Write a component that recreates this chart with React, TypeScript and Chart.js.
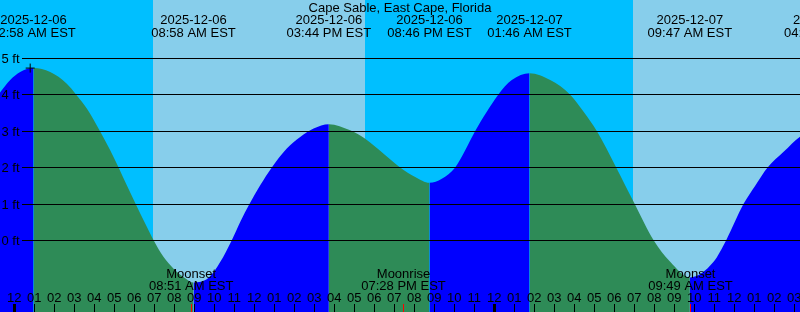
import React, { useEffect, useRef } from "react";
import { Chart, registerables } from "chart.js";

Chart.register(...registerables);

// ---- data (times are hours since 2025-12-06 00:00 EST, heights in ft) ----
const TITLE = "Cape Sable, East Cape, Florida";

const curveTimes = [
  -0.75, -0.2, 0.3, 0.967, 1.8, 2.63, 3.1, 3.63, 4.3, 4.8, 5.22, 5.63, 6.08,
  6.55, 6.97, 7.47, 7.97, 8.55, 8.967, 9.72, 10.3, 10.88, 11.3, 11.77, 12.3,
  12.88, 13.63, 14.3, 14.97, 15.733, 16.8, 17.55, 18.47, 19.3, 20.05, 20.767,
  21.38, 22.05, 22.55, 23.05, 23.63, 24.2, 24.88, 25.767, 26.8, 27.8, 28.47,
  29.13, 30.1, 31.02, 31.97, 32.8, 33.783, 34.97, 35.6, 36.47, 37.05, 37.67,
  38.47, 39.3, 40.6,
];
const curveHeights = [
  4.03, 4.4, 4.62, 4.73, 4.62, 4.3, 4.0, 3.62, 2.99, 2.47, 2.0, 1.51, 0.99,
  0.46, 0.0, -0.46, -0.78, -1.04, -1.16, -1.03, -0.6, 0.0, 0.5, 1.0, 1.51,
  2.0, 2.52, 2.84, 3.07, 3.19, 3.02, 2.79, 2.38, 2.0, 1.74, 1.58,
  1.69, 2.0, 2.47, 3.0, 3.53, 4.0, 4.4, 4.59, 4.4, 4.0, 3.53,
  3.0, 2.0, 1.0, 0.0, -0.59, -1.02, -0.59, 0.0, 1.0, 1.5, 2.0,
  2.43, 2.85, 3.2,
];

const tideEventTimes = [0.967, 8.967, 15.733, 20.767, 25.767, 33.783, 40.6];
const tideEventDates = [
  "2025-12-06", "2025-12-06", "2025-12-06", "2025-12-06",
  "2025-12-07", "2025-12-07", "2025-12-07",
];
const tideEventClock = [
  "12:58 AM EST", "08:58 AM EST", "03:44 PM EST", "08:46 PM EST",
  "01:46 AM EST", "09:47 AM EST", "04:36 PM EST",
];

const moonEventTimes = [8.85, 19.467, 33.817];
const moonEventNames = ["Moonset", "Moonrise", "Moonset"];
const moonEventClock = ["08:51 AM EST", "07:28 PM EST", "09:49 AM EST"];

const dayStarts = [6.94, 30.94];
const dayEnds = [17.54, 41.55];

const hourTickValues = [
  0, 1, 2, 3, 4, 5, 6, 7, 8, 9, 10, 11, 12, 13, 14, 15, 16, 17, 18, 19,
  20, 21, 22, 23, 24, 25, 26, 27, 28, 29, 30, 31, 32, 33, 34, 35, 36, 37, 38, 39,
];
const hourTickLabels = [
  "12", "01", "02", "03", "04", "05", "06", "07", "08", "09", "10", "11",
  "12", "01", "02", "03", "04", "05", "06", "07", "08", "09", "10", "11",
  "12", "01", "02", "03", "04", "05", "06", "07", "08", "09", "10", "11",
  "12", "01", "02", "03",
];
const midnightTicks = [0, 24];

const heightTickValues = [0, 1, 2, 3, 4, 5];
const heightTickLabels = ["0 ft", "1 ft", "2 ft", "3 ft", "4 ft", "5 ft"];

const nowTime = 0.8;
const nowHeight = 4.73;

// ---- styles ----
const NIGHT = "#00BFFF";
const DAY = "#87CEEB";
const RISING = "#0000FF";
const FALLING = "#2E8B57";
const FONT = '13px "Liberation Sans", Arial, sans-serif';

const decorPlugin = {
  id: "tideDecor",
  beforeDraw(chart: any) {
    const { ctx, scales } = chart;
    const x = scales.x;
    ctx.save();
    ctx.fillStyle = NIGHT;
    ctx.fillRect(0, 0, chart.width, chart.height);
    ctx.fillStyle = DAY;
    for (let i = 0; i < dayStarts.length; i++) {
      const x0 = Math.round(x.getPixelForValue(dayStarts[i]));
      const x1 = Math.round(x.getPixelForValue(dayEnds[i]));
      ctx.fillRect(x0, 0, x1 - x0, chart.height);
    }
    ctx.restore();
  },
  afterDatasetsDraw(chart: any) {
    const { ctx, scales } = chart;
    const x = scales.x;
    const y = scales.y;
    const W = chart.width;
    const H = chart.height;
    ctx.save();
    ctx.font = FONT;
    ctx.fillStyle = "#000";
    ctx.strokeStyle = "#000";
    ctx.lineWidth = 1;
    ctx.textBaseline = "alphabetic";

    // height grid lines + labels
    for (let i = 0; i < heightTickValues.length; i++) {
      const py = Math.floor(y.getPixelForValue(heightTickValues[i]) + 0.2) + 0.5;
      ctx.beginPath();
      ctx.moveTo(22, py);
      ctx.lineTo(W, py);
      ctx.stroke();
      ctx.textAlign = "left";
      ctx.fillText(heightTickLabels[i], 1.5, py + 4.5);
    }

    // title
    ctx.textAlign = "center";
    ctx.fillText(TITLE, W / 2, 12);

    // tide events
    for (let i = 0; i < tideEventTimes.length; i++) {
      const px = x.getPixelForValue(tideEventTimes[i]);
      ctx.fillText(tideEventDates[i], px, 24);
      ctx.fillText(tideEventClock[i], px, 36.5);
    }

    // moon events
    for (let i = 0; i < moonEventTimes.length; i++) {
      const px = x.getPixelForValue(moonEventTimes[i]);
      ctx.fillText(moonEventNames[i], px, 277.5);
      ctx.fillText(moonEventClock[i], px, 289.5);
    }

    // hour labels + ticks
    for (let i = 0; i < hourTickValues.length; i++) {
      const px = x.getPixelForValue(hourTickValues[i]);
      ctx.fillText(hourTickLabels[i], px, 301.5);
      const cx = Math.floor(px);
      if (midnightTicks.includes(hourTickValues[i])) {
        ctx.fillRect(cx - 1, 304, 3, H - 304);
      } else {
        ctx.fillRect(cx, 304, 1, H - 304);
      }
    }
    ctx.fillStyle = "#FF0000";
    for (let i = 0; i < moonEventTimes.length; i++) {
      const cx = Math.floor(x.getPixelForValue(moonEventTimes[i]));
      ctx.fillRect(cx, 304, 1, H - 304);
    }
    ctx.restore();
  },
};

export default function App() {
  const ref = useRef<HTMLCanvasElement | null>(null);

  useEffect(() => {
    document.body.style.margin = "0";
    const canvas = ref.current;
    if (!canvas) return;
    const points = curveTimes.map((t, i) => ({ x: t, y: curveHeights[i] }));
    const chart = new Chart(canvas, {
      type: "line",
      data: {
        datasets: [
          {
            data: [{ x: nowTime, y: nowHeight }],
            showLine: false,
            pointStyle: "cross",
            pointRadius: 4.5,
            borderColor: "#000",
            borderWidth: 1,
            order: -1,
          } as any,
          {
            data: points,
            fill: "start",
            borderWidth: 0,
            borderColor: "rgba(0,0,0,0)",
            backgroundColor: RISING,
            pointRadius: 0,
            cubicInterpolationMode: "monotone",
            segment: {
              backgroundColor: (c: any) =>
                c.p1.parsed.y >= c.p0.parsed.y ? RISING : FALLING,
            },
            order: 1,
          } as any,
        ],
      },
      options: {
        animation: false,
        responsive: false,
        devicePixelRatio: 1,
        layout: { padding: 0, autoPadding: false },
        events: [],
        scales: {
          x: { type: "linear", min: -0.71, max: 39.29, display: false },
          y: { type: "linear", min: -1.97, max: 6.6, display: false },
        },
        plugins: {
          legend: { display: false },
          tooltip: { enabled: false },
          title: { display: false },
        },
      },
      plugins: [decorPlugin],
    });
    return () => chart.destroy();
  }, []);

  return (
    <canvas
      ref={ref}
      width={800}
      height={312}
      style={{ display: "block", width: 800, height: 312 }}
    />
  );
}
